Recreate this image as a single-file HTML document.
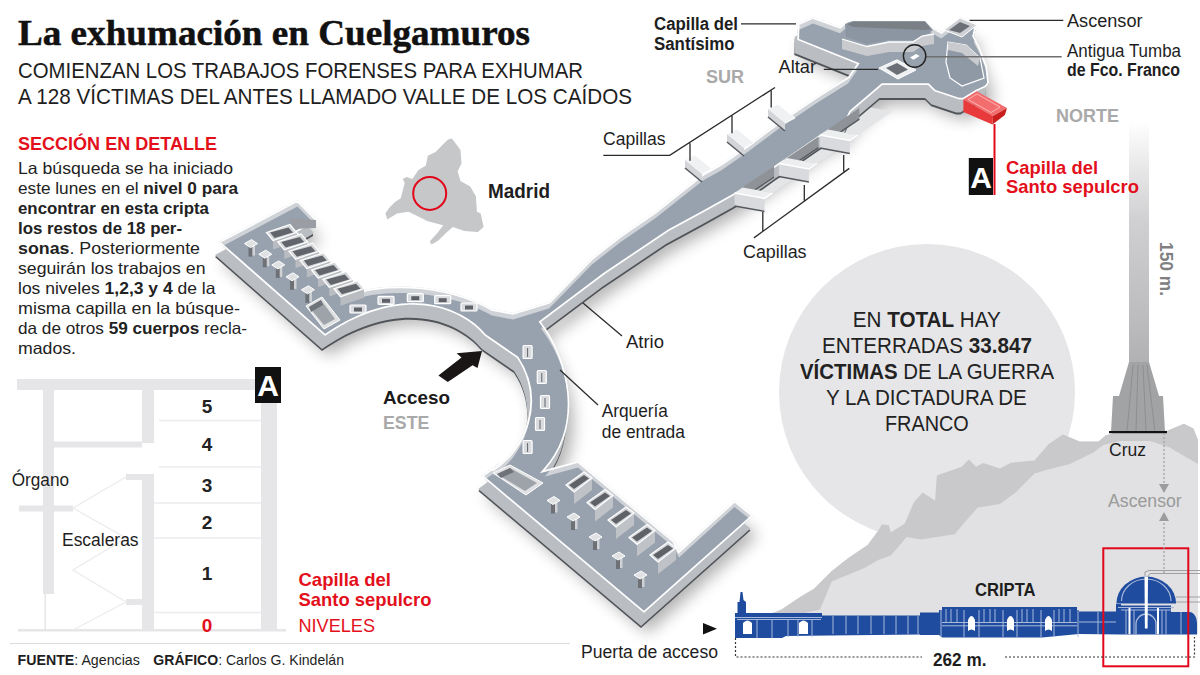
<!DOCTYPE html>
<html><head><meta charset="utf-8"><style>
html,body{margin:0;padding:0;background:#fff;width:1200px;height:675px;overflow:hidden}
svg{display:block}
text{font-family:"Liberation Sans",sans-serif}
</style></head><body>
<svg width="1200" height="675" viewBox="0 0 1200 675">
<rect width="1200" height="675" fill="#fff"/>
<defs>
<linearGradient id="shaft" x1="0" y1="0" x2="0" y2="1"><stop offset="0" stop-color="#fff"/><stop offset="0.15" stop-color="#ececed"/><stop offset="0.4" stop-color="#d0d0d2"/><stop offset="0.8" stop-color="#bcbcbe"/><stop offset="1" stop-color="#b0b0b2"/></linearGradient>
</defs>
<circle cx="927" cy="392" r="148" fill="#e6e6e8"/>
<!-- mountain body -->
<path d="M770,614 781.5,609.5 800,597 814,588.8 831.8,571 848,558.2 867.6,544.9 878.2,530.7 881.8,524.4 888.9,525.3 890.7,532.4 904.9,523.6 913.8,502.2 922.7,492.4 935.1,500.4 936.9,475.6 961.8,466.7 968.9,459.6 976,466.7 983.1,463.1 1000,468.4 1010.8,462.8 1034.5,460.5 1048.8,443.9 1063,434.4 1079.6,441.5 1098.5,441.5 1105.6,435.6 1120,431 1150,431 1167.3,430.8 1183.9,423.7 1193.4,428.4 1198,440 L1198,634 L770,634 Z" fill="#e1e1e3"/>
<!-- ridge band -->
<path d="M770,614 781.5,609.5 800,597 814,588.8 831.8,571 848,558.2 867.6,544.9 878.2,530.7 881.8,524.4 888.9,525.3 890.7,532.4 904.9,523.6 913.8,502.2 922.7,492.4 935.1,500.4 936.9,475.6 961.8,466.7 968.9,459.6 976,466.7 983.1,463.1 1000,468.4 1010.8,462.8 1034.5,460.5 1048.8,443.9 1063,434.4 1079.6,441.5 1098.5,441.5 1105.6,435.6 1120,431 1150,431 1167.3,430.8 1183.9,423.7 1193.4,428.4 1198,440 L1198,464 1181.5,454.5 1169.7,447.4 1150,441 1120,441 1103.3,445 1093.8,452.2 1070,464 1051,468.8 1034.5,473.5 1015.6,492.5 1000,504 977.8,507.6 963.6,523.6 954.7,534.2 920.9,539.6 906.7,536.9 890.7,555.6 878.2,560 864.4,568 831.8,581.4 820,609.5 800,614 Z" fill="#c9c9cb"/>
<!-- tower -->
<rect x="1129" y="122" width="20" height="245" fill="url(#shaft)"/>
<path d="M1129,362 L1149,362 1159,396 1163,396 1165,432 1111,432 1113,396 1119,396 Z" fill="#a2a3a5"/>
<path d="M1133,365 L1127,432 M1138,365 L1136,432 M1143,365 L1146,432 M1147,365 L1155,432" stroke="#8e8f91" stroke-width="1"/>
<rect x="1109" y="431" width="58" height="2.2" fill="#111"/>

<g fill="#e6e6e8">
<rect x="17" y="379" width="260" height="11"/>
<rect x="261" y="379" width="16" height="252"/>
<rect x="43" y="390" width="11" height="204"/>
<rect x="142" y="390" width="12" height="53"/>
<rect x="142" y="474" width="12" height="156"/>
<rect x="54" y="441.5" width="88" height="6"/>
<rect x="19" y="505.5" width="54" height="6"/>
<rect x="126" y="474" width="16" height="6"/>
<rect x="126" y="599" width="16" height="6"/>
<rect x="18" y="629" width="268" height="2.5"/>
<rect x="44.5" y="594" width="1.5" height="36"/>
</g>
<g stroke="#ececee" stroke-width="1.3" fill="none">
<path d="M159,420.5 H261 M159,467 H261 M154,503 H261 M154,538 H261 M154,612.5 H261"/>
<path d="M126,477 L73,508 L126,538 L73,570 L126,602 L73,630"/>
</g>

<path d="M451.9,138.5 L460.5,150 461.5,163.5 457.6,171.2 460.5,180.9 470.2,186.6 475.9,196.3 476.9,211.7 480.7,213.6 483.6,227 477.9,231.9 464.4,231 452.8,227 447,232 438.4,240.6 431.6,244.4 429.7,241.5 437.4,232.9 443.2,225.2 427.8,221.3 416.2,215.5 408.5,211.7 397,213.6 387.3,219.4 385.4,213.6 389.3,207.8 395,202 400.8,198.2 404.7,182.8 402.7,179 406.6,177 412.4,179 418.2,170.3 425.9,165.4 427.8,155.8 435.5,152 443.2,144.3 448,139.4 Z" fill="#c6c7c9"/>
<circle cx="429.7" cy="193.4" r="16.5" fill="none" stroke="#e2071b" stroke-width="2"/>

<defs>
<path id="mP" d="M218,242 L297.5,200 L316,219 L316,221 L297,232 L358,291 L352,294 C375,284 440,280 492,309 L513,313 L549,302 L592,258 L620,236 L655,212 L703,174 L721,164 L747,146 L779,122 L816,97 L848,77 L857,64 L797.3,40 L797.8,23.7 L813,17 L840,26.7 L848,20 L920,20 L941.3,32 L960.5,17.3 L977,24 L974,36 L980,47.7 L987,66 L989,83 L986,87 L976.8,91.3 L963.4,99.6 L959.2,99.6 L934.3,91.3 L928,85 L882.4,85 L850.7,112 L845,125 L830,130.3 L819.8,137 L788.7,158.5 L778.9,165 L746.9,187.8 L734.5,195 L704,212 L669,231 L605,274 L541,322 C570,360 585,425 545,470 L578,461 L674,541 L679,551 L734.5,500.5 L753.5,515.6 L644,613 L481.3,476 L500,462 L492,470 C525,450 545,400 517,358 L485,336 C460,306 400,284 325,336 Z"/>
<clipPath id="mClip"><use href="#mP"/></clipPath>
<filter id="mBlur" x="-20%" y="-20%" width="140%" height="140%"><feGaussianBlur stdDeviation="8"/></filter>
</defs>
<use href="#mP" transform="translate(4,20)" fill="#000" opacity="0.3" filter="url(#mBlur)"/>
<g><path d="M742.5,187.5 L772.5,192.9 L807.1,169.4 L777.1,164.0 Z" fill="#e4e5e7"/><path d="M786.9,158.1 L816.9,163.5 L851.5,140.0 L821.5,134.6 Z" fill="#e4e5e7"/><path d="M827.8,129.6 L857.8,135.0 L892.4,111.5 L862.4,106.1 Z" fill="#e4e5e7"/></g><use href="#mP" transform="translate(-3,15)" fill="#505358"/>
<use href="#mP" transform="translate(-3,13)" fill="#babdc1"/>
<use href="#mP" fill="#cfd2d6"/>
<g clip-path="url(#mClip)"><use href="#mP" transform="translate(0,6.5)" fill="#98a2ae"/></g>
<g clip-path="url(#mClip)">
<use href="#mP" fill="none" stroke="#fff" stroke-width="3.5"/>
</g>

<g><path d="M289.0,218.0 L316.0,220.0 L316.0,228.0 L292.6,229.0 Z" fill="#9a9ea4"/><path d="M273.0,240.5 L296.5,232.5 L296.5,241.5 L273.0,249.5 Z" fill="#b9bcc0"/><path d="M266.5,232.5 L290.0,224.5 L296.5,232.5 L273.0,240.5 Z" fill="#d5d7da" stroke="#fff" stroke-width="1.2"/><path d="M270.0,232.5 L288.5,227.5 L293.0,232.5 L274.5,238.0 Z" fill="#62666c"/><path d="M284.2,249.9 L307.8,241.9 L307.8,250.9 L284.2,258.9 Z" fill="#b9bcc0"/><path d="M277.8,241.9 L301.2,233.9 L307.8,241.9 L284.2,249.9 Z" fill="#d5d7da" stroke="#fff" stroke-width="1.2"/><path d="M281.2,241.9 L299.8,236.9 L304.2,241.9 L285.8,247.4 Z" fill="#62666c"/><path d="M295.5,259.2 L319.0,251.2 L319.0,260.2 L295.5,268.2 Z" fill="#b9bcc0"/><path d="M289.0,251.2 L312.5,243.2 L319.0,251.2 L295.5,259.2 Z" fill="#d5d7da" stroke="#fff" stroke-width="1.2"/><path d="M292.5,251.2 L311.0,246.2 L315.5,251.2 L297.0,256.7 Z" fill="#62666c"/><path d="M306.8,268.6 L330.2,260.6 L330.2,269.6 L306.8,277.6 Z" fill="#b9bcc0"/><path d="M300.2,260.6 L323.8,252.6 L330.2,260.6 L306.8,268.6 Z" fill="#d5d7da" stroke="#fff" stroke-width="1.2"/><path d="M303.8,260.6 L322.2,255.6 L326.8,260.6 L308.2,266.1 Z" fill="#62666c"/><path d="M318.0,278.0 L341.5,270.0 L341.5,279.0 L318.0,287.0 Z" fill="#b9bcc0"/><path d="M311.5,270.0 L335.0,262.0 L341.5,270.0 L318.0,278.0 Z" fill="#d5d7da" stroke="#fff" stroke-width="1.2"/><path d="M315.0,270.0 L333.5,265.0 L338.0,270.0 L319.5,275.5 Z" fill="#62666c"/><path d="M329.2,287.4 L352.8,279.4 L352.8,288.4 L329.2,296.4 Z" fill="#b9bcc0"/><path d="M322.8,279.4 L346.2,271.4 L352.8,279.4 L329.2,287.4 Z" fill="#d5d7da" stroke="#fff" stroke-width="1.2"/><path d="M326.2,279.4 L344.8,274.4 L349.2,279.4 L330.8,284.9 Z" fill="#62666c"/><path d="M340.5,296.7 L364.0,288.7 L364.0,297.7 L340.5,305.7 Z" fill="#b9bcc0"/><path d="M334.0,288.7 L357.5,280.7 L364.0,288.7 L340.5,296.7 Z" fill="#d5d7da" stroke="#fff" stroke-width="1.2"/><path d="M337.5,288.7 L356.0,283.7 L360.5,288.7 L342.0,294.2 Z" fill="#62666c"/><path d="M574.0,492.0 L592.0,478.0 L592.0,490.0 L574.0,504.0 Z" fill="#bfc2c6"/><path d="M566.0,485.0 L584.0,472.0 L592.0,478.0 L574.0,492.0 Z" fill="#d5d7da" stroke="#fff" stroke-width="1.2"/><path d="M569.0,485.0 L584.0,475.0 L589.0,478.5 L574.0,489.0 Z" fill="#5f6368"/><path d="M595.0,509.5 L613.0,495.5 L613.0,507.5 L595.0,521.5 Z" fill="#bfc2c6"/><path d="M587.0,502.5 L605.0,489.5 L613.0,495.5 L595.0,509.5 Z" fill="#d5d7da" stroke="#fff" stroke-width="1.2"/><path d="M590.0,502.5 L605.0,492.5 L610.0,496.0 L595.0,506.5 Z" fill="#5f6368"/><path d="M616.0,527.0 L634.0,513.0 L634.0,525.0 L616.0,539.0 Z" fill="#bfc2c6"/><path d="M608.0,520.0 L626.0,507.0 L634.0,513.0 L616.0,527.0 Z" fill="#d5d7da" stroke="#fff" stroke-width="1.2"/><path d="M611.0,520.0 L626.0,510.0 L631.0,513.5 L616.0,524.0 Z" fill="#5f6368"/><path d="M637.0,544.5 L655.0,530.5 L655.0,542.5 L637.0,556.5 Z" fill="#bfc2c6"/><path d="M629.0,537.5 L647.0,524.5 L655.0,530.5 L637.0,544.5 Z" fill="#d5d7da" stroke="#fff" stroke-width="1.2"/><path d="M632.0,537.5 L647.0,527.5 L652.0,531.0 L637.0,541.5 Z" fill="#5f6368"/><path d="M658.0,562.0 L676.0,548.0 L676.0,560.0 L658.0,574.0 Z" fill="#bfc2c6"/><path d="M650.0,555.0 L668.0,542.0 L676.0,548.0 L658.0,562.0 Z" fill="#d5d7da" stroke="#fff" stroke-width="1.2"/><path d="M653.0,555.0 L668.0,545.0 L673.0,548.5 L658.0,559.0 Z" fill="#5f6368"/><rect x="248.5" y="245.6" width="4" height="11" fill="#6d7176"/><rect x="252.5" y="245.6" width="2.5" height="10" fill="#d0d2d5"/><path d="M244.5,243.6 L251.5,239.6 L257.5,243.6 L250.5,247.6 Z" fill="#dfe1e3" stroke="#fff" stroke-width="1"/><rect x="262.8" y="256.2" width="4" height="11" fill="#6d7176"/><rect x="266.8" y="256.2" width="2.5" height="10" fill="#d0d2d5"/><path d="M258.8,254.2 L265.8,250.2 L271.8,254.2 L264.8,258.2 Z" fill="#dfe1e3" stroke="#fff" stroke-width="1"/><rect x="275.8" y="266.9" width="4" height="11" fill="#6d7176"/><rect x="279.8" y="266.9" width="2.5" height="10" fill="#d0d2d5"/><path d="M271.8,264.9 L278.8,260.9 L284.8,264.9 L277.8,268.9 Z" fill="#dfe1e3" stroke="#fff" stroke-width="1"/><rect x="290.0" y="278.8" width="4" height="11" fill="#6d7176"/><rect x="294.0" y="278.8" width="2.5" height="10" fill="#d0d2d5"/><path d="M286.0,276.8 L293.0,272.8 L299.0,276.8 L292.0,280.8 Z" fill="#dfe1e3" stroke="#fff" stroke-width="1"/><rect x="305.4" y="291.8" width="4" height="11" fill="#6d7176"/><rect x="309.4" y="291.8" width="2.5" height="10" fill="#d0d2d5"/><path d="M301.4,289.8 L308.4,285.8 L314.4,289.8 L307.4,293.8 Z" fill="#dfe1e3" stroke="#fff" stroke-width="1"/><rect x="551.0" y="502.5" width="4" height="11" fill="#6d7176"/><rect x="555.0" y="502.5" width="2.5" height="10" fill="#d0d2d5"/><path d="M547.0,500.5 L554.0,496.5 L560.0,500.5 L553.0,504.5 Z" fill="#dfe1e3" stroke="#fff" stroke-width="1"/><rect x="571.0" y="519.0" width="4" height="11" fill="#6d7176"/><rect x="575.0" y="519.0" width="2.5" height="10" fill="#d0d2d5"/><path d="M567.0,517.0 L574.0,513.0 L580.0,517.0 L573.0,521.0 Z" fill="#dfe1e3" stroke="#fff" stroke-width="1"/><rect x="593.0" y="539.0" width="4" height="11" fill="#6d7176"/><rect x="597.0" y="539.0" width="2.5" height="10" fill="#d0d2d5"/><path d="M589.0,537.0 L596.0,533.0 L602.0,537.0 L595.0,541.0 Z" fill="#dfe1e3" stroke="#fff" stroke-width="1"/><rect x="616.0" y="558.0" width="4" height="11" fill="#6d7176"/><rect x="620.0" y="558.0" width="2.5" height="10" fill="#d0d2d5"/><path d="M612.0,556.0 L619.0,552.0 L625.0,556.0 L618.0,560.0 Z" fill="#dfe1e3" stroke="#fff" stroke-width="1"/><rect x="638.0" y="577.0" width="4" height="11" fill="#6d7176"/><rect x="642.0" y="577.0" width="2.5" height="10" fill="#d0d2d5"/><path d="M634.0,575.0 L641.0,571.0 L647.0,575.0 L640.0,579.0 Z" fill="#dfe1e3" stroke="#fff" stroke-width="1"/><rect x="350.0" y="305.0" width="16" height="8" rx="1" fill="#d9dbde" stroke="#fff" stroke-width="1.2"/><rect x="354.0" y="307.5" width="8" height="4" fill="#5e6268"/><rect x="378.0" y="296.3" width="16" height="8" rx="1" fill="#d9dbde" stroke="#fff" stroke-width="1.2"/><rect x="382.0" y="298.8" width="8" height="4" fill="#5e6268"/><rect x="407.3" y="293.7" width="16" height="8" rx="1" fill="#d9dbde" stroke="#fff" stroke-width="1.2"/><rect x="411.3" y="296.2" width="8" height="4" fill="#5e6268"/><rect x="434.7" y="295.7" width="16" height="8" rx="1" fill="#d9dbde" stroke="#fff" stroke-width="1.2"/><rect x="438.7" y="298.2" width="8" height="4" fill="#5e6268"/><rect x="461.0" y="303.0" width="16" height="8" rx="1" fill="#d9dbde" stroke="#fff" stroke-width="1.2"/><rect x="465.0" y="305.5" width="8" height="4" fill="#5e6268"/><rect x="523.1" y="345.5" width="9" height="13" rx="1" fill="#d9dbde" stroke="#fff" stroke-width="1.2"/><rect x="527.1" y="348.0" width="1" height="9" fill="#5e6268"/><rect x="537.3" y="370.5" width="9" height="13" rx="1" fill="#d9dbde" stroke="#fff" stroke-width="1.2"/><rect x="541.3" y="373.0" width="1" height="9" fill="#5e6268"/><rect x="540.5" y="395.5" width="9" height="13" rx="1" fill="#d9dbde" stroke="#fff" stroke-width="1.2"/><rect x="544.5" y="398.0" width="1" height="9" fill="#5e6268"/><rect x="535.5" y="417.5" width="9" height="13" rx="1" fill="#d9dbde" stroke="#fff" stroke-width="1.2"/><rect x="539.5" y="420.0" width="1" height="9" fill="#5e6268"/><rect x="523.1" y="440.5" width="9" height="13" rx="1" fill="#d9dbde" stroke="#fff" stroke-width="1.2"/><rect x="527.1" y="443.0" width="1" height="9" fill="#5e6268"/><path d="M306.0,306.0 L322.0,297.0 L340.0,320.0 L324.0,329.0 Z" fill="#e0e1e3" stroke="#fff" stroke-width="1"/><path d="M309.0,307.0 L321.0,300.0 L335.0,319.0 L324.0,325.0 Z" fill="#9ea3a9"/><path d="M309.0,307.0 L321.0,300.0 L323.0,305.0 L311.0,312.0 Z" fill="#6f7379"/><path d="M493.0,473.0 L510.0,465.0 L543.0,483.0 L526.0,495.0 Z" fill="#e0e1e3" stroke="#fff" stroke-width="1"/><path d="M497.0,474.0 L510.0,468.0 L537.0,483.0 L525.0,491.0 Z" fill="#9ea3a9"/><path d="M497.0,474.0 L510.0,468.0 L514.0,472.0 L501.0,478.0 Z" fill="#6f7379"/><path d="M685.0,160.0 L695.0,155.0 L712.0,169.0 L702.0,174.0 Z" fill="#f0f1f2" stroke="#fff" stroke-width="1"/><path d="M685.0,160.0 L702.0,174.0 L702.0,182.0 L685.0,168.0 Z" fill="#d3d5d8"/><path d="M685.0,168.0 L702.0,182.0" stroke="#55595e" stroke-width="1.5"/><path d="M727.0,134.0 L737.0,129.0 L754.0,143.0 L744.0,148.0 Z" fill="#f0f1f2" stroke="#fff" stroke-width="1"/><path d="M727.0,134.0 L744.0,148.0 L744.0,156.0 L727.0,142.0 Z" fill="#d3d5d8"/><path d="M727.0,142.0 L744.0,156.0" stroke="#55595e" stroke-width="1.5"/><path d="M768.0,109.0 L778.0,104.0 L795.0,118.0 L785.0,123.0 Z" fill="#f0f1f2" stroke="#fff" stroke-width="1"/><path d="M768.0,109.0 L785.0,123.0 L785.0,131.0 L768.0,117.0 Z" fill="#d3d5d8"/><path d="M768.0,117.0 L785.0,131.0" stroke="#55595e" stroke-width="1.5"/><path d="M739.5,200.5 L774.1,177.0 L774.1,166.0 L739.5,189.5 Z" fill="#8f9398"/><path d="M739.5,200.5 L774.1,177.0" stroke="#55595e" stroke-width="1.3"/><path d="M783.9,171.1 L818.5,147.6 L818.5,136.6 L783.9,160.1 Z" fill="#8f9398"/><path d="M783.9,171.1 L818.5,147.6" stroke="#55595e" stroke-width="1.3"/><path d="M824.8,142.6 L859.4,119.1 L859.4,108.1 L824.8,131.6 Z" fill="#8f9398"/><path d="M824.8,142.6 L859.4,119.1" stroke="#55595e" stroke-width="1.3"/><path d="M734.5,193.0 L764.5,198.4 L764.5,211.4 L734.5,206.0 Z" fill="#d9dadd"/><path d="M734.5,193.0 L764.5,198.4 L772.5,192.9 L742.5,187.5 Z" fill="#eceef0"/><path d="M734.5,193.0 L764.5,198.4 L772.5,192.9" stroke="#fff" stroke-width="1.5" fill="none"/><path d="M734.5,206.0 L764.5,211.4" stroke="#55595e" stroke-width="1.5"/><path d="M778.9,163.6 L808.9,169.0 L808.9,182.0 L778.9,176.6 Z" fill="#d9dadd"/><path d="M778.9,163.6 L808.9,169.0 L816.9,163.5 L786.9,158.1 Z" fill="#eceef0"/><path d="M778.9,163.6 L808.9,169.0 L816.9,163.5" stroke="#fff" stroke-width="1.5" fill="none"/><path d="M778.9,176.6 L808.9,182.0" stroke="#55595e" stroke-width="1.5"/><path d="M819.8,135.1 L849.8,140.5 L849.8,153.5 L819.8,148.1 Z" fill="#d9dadd"/><path d="M819.8,135.1 L849.8,140.5 L857.8,135.0 L827.8,129.6 Z" fill="#eceef0"/><path d="M819.8,135.1 L849.8,140.5 L857.8,135.0" stroke="#fff" stroke-width="1.5" fill="none"/><path d="M819.8,148.1 L849.8,153.5" stroke="#55595e" stroke-width="1.5"/><path d="M845,24 L853,21 L925,21 L933,30 L925,36 L913,40 L889,40 L867,44 L846,37 Z" fill="#8c96a2"/><path d="M847,24 L853,22 L925,22 L931,29 L926,30 L853,27 Z" fill="#7b8086"/><path d="M842,39 L867,46.5 L889,42 L913,42 L922,36 L934,34 L934,44 L922,46 L913,52 L889,52 L867,56 L842,49 Z" fill="#c8cacd"/><path d="M842,39 L867,46.5 L889,42 L913,42 L922,36 L934,34" stroke="#fff" stroke-width="1.3" fill="none"/><path d="M948,42 L966,45 L980,58 L984,78 L962,86 L950,78 L946,62 Z" fill="#8f99a5" stroke="#fff" stroke-width="1.2"/><path d="M948,42 L966,45 L980,58 L978,66 L962,53 L948,50 Z" fill="#c9cbce"/><path d="M944.0,30.0 L960.0,18.0 L977.0,25.0 L962.0,37.0 Z" fill="#cfd1d4" stroke="#fff" stroke-width="1"/><path d="M949.0,30.0 L960.0,22.0 L970.0,26.0 L960.0,33.0 Z" fill="#6c7076"/><path d="M879.0,68.0 L897.0,59.8 L916.0,70.0 L898.0,79.0 Z" fill="#eef0f2" stroke="#fff" stroke-width="1"/><path d="M886.0,68.0 L897.0,63.0 L908.0,69.5 L897.0,75.0 Z" fill="#6c7076"/><path d="M910.0,57.5 L916.0,53.9 L919.6,56.0 L913.5,59.8 Z" fill="#fff"/><path d="M963.4,99.6 L976.8,91.3 L1007.0,107.9 L993.0,116.0 Z" fill="#f26d6d"/><path d="M963.4,99.6 L993.0,116.0 L992.4,124.5 L963.4,112.0 Z" fill="#e83a3a"/><path d="M993.0,116.0 L1007.0,107.9 L1004.9,115.1 L992.4,124.5 Z" fill="#c81e1e"/><path d="M968.0,99.5 L977.0,94.0 L1000.0,107.0 L991.0,112.5 Z" fill="none" stroke="#ffb3b3" stroke-width="1"/></g>
<g fill="#1f4c9e">
<!-- left section with tower -->
<path d="M735,613 L737.5,613 L737.5,602 L739.5,602 L740.5,592 L742.5,592 L743.5,600 L746,602 L746,613 L822,613 L822,615.6 L920,615.6 L920,612.5 L939,612.5 L939,610 L942,610 L942,607 L1077,607 L1077,610 L1079,610 L1079,611.5 L1116,611.5 L1116,604 L1121,604 L1121,605.5 L1171,605.5 L1171,612 L1190,612 C1195,613 1197,618 1197,624 L1197,634.5 L1121,634.5 L1079,634 L1042,637.5 L942,637.5 L939,635 L920,635 L920,634.4 L786,636 L782,638 L735,638 Z"/>
<path d="M1116.4,603.6 A29.85,27 0 0 1 1176.1,603.6 Z"/>
</g>
<g stroke="#a8b9dc" stroke-width="1" fill="none">
<path d="M735,617.5 H822 M737,619.5 H821"/>
<path d="M757,619 V638 M772,619 V638 M788,619 V637 M798,619 V637 M812,619 V637 M833,616 V634 M846,616 V634 M858,616 V634 M871,616 V634 M884,616 V634 M896,616 V634 M908,616 V634 M918,616 V634 M941,610 V637 M964,610 V637 M979,610 V637 M1003,610 V637 M1017,610 V637 M1041,610 V637 M1054,610 V637 M1078,610 V637 M1098,612 V634 M1079,622 H1116"/>
<path d="M946,609 V622 M951,609 V622 M957,609 V622 M984,609 V622 M990,609 V622 M995,609 V622 M1022,609 V622 M1027,609 V622 M1033,609 V622 M1059,609 V622 M1064,609 V622 M1070,609 V622"/>
<path d="M942,622.5 H1077 M942,625.8 H1077"/>
<path d="M1121.5,601 A24.75,22 0 0 1 1171,601" stroke-width="1.2"/>
<path d="M1118,607.5 H1174 M1121,610 H1171"/>
<path d="M1126,610 V634 M1134,610 V634 M1162,610 V634 M1166,610 V634 M1181,612 V634"/>
<path d="M1136,634 V624 A10,10 0 0 1 1156,624 V634" stroke-width="1.3"/>
</g>
<g fill="#fff">
<path d="M743,634 V623 Q747.5,618 752,623 V634 Z"/>
<path d="M799,634 V623 Q803.5,618 808,623 V634 Z"/>
<path d="M968,631 V620 Q971.5,612 975,620 V631 Q971.5,628 968,631 Z"/>
<path d="M1007,631 V620 Q1010.5,612 1014,620 V631 Q1010.5,628 1007,631 Z"/>
<path d="M1045,631 V620 Q1048.5,612 1052,620 V631 Q1048.5,628 1045,631 Z"/>
<path d="M1144.5,576.6 L1148,576.6 L1147.6,628.6 L1144.9,628.6 Z"/>
<rect x="1128.5" y="608" width="2" height="26"/>
<rect x="1157" y="608" width="2" height="26"/>
</g>
<!-- gray lines near dome -->
<g stroke="#a0a0a2" stroke-width="1" fill="none">
<path d="M1145,576 L1145,572 L1149,570.5 H1200 M1147.5,577 L1150,573.5 H1200"/>
<path d="M1176,597 H1200 M1176,602 H1200"/>
</g>
<rect x="1103.3" y="548.3" width="85" height="118" fill="none" stroke="#e2071b" stroke-width="2"/>
<!-- dotted dimension -->
<g stroke="#333" stroke-width="1.2" stroke-dasharray="2,2" fill="none">
<path d="M735.5,638 V657 H922 M1005,657 H1194.5 V637"/>
</g>
<path d="M703,623 L717,628.7 L703,634.4 Z" fill="#111"/>

<g stroke="#2b2b2b" stroke-width="1.3" fill="none">
<path d="M741,23.8 H796"/>
<path d="M823.8,69.4 H878"/>
<path d="M969.6,20.3 H1063.3"/>
<path d="M603.3,155.3 H669.7 L775,87.5 M690,143.3 V160.8 M732,115.8 V133.3 M771.2,90.8 V107.5"/>
<path d="M753.9,237.9 L849.3,168.4 M762.8,212 V231.7 M804.3,185 V200.5 M843.7,154.9 V171.5"/>
<path d="M583,303 L622,336"/>
<path d="M560,370 L598,405"/>
</g>
<path d="M925.5,56.7 H1061.7" stroke="#6f6f6f" stroke-width="1.6"/>
<circle cx="914.6" cy="56" r="11.2" fill="none" stroke="#222" stroke-width="1.4"/>
<path d="M994.5,124 V195" stroke="#e2071b" stroke-width="2"/>
<g stroke="#9c9c9c" stroke-width="1.2" stroke-dasharray="2,2" fill="none">
<path d="M1164,433 V486 M1164,519 V573"/>
</g>
<path d="M1159,484 L1169,484 L1164,493 Z M1159,521 L1169,521 L1164,512 Z" fill="#9c9c9c"/>
<path d="M482,351 L477.5,367.9 L472.6,365.2 L447.8,382.1 L438.4,375.4 L461.5,357.6 L456.6,353.2 Z" fill="#1b1616"/>

<g font-family="Liberation Sans, sans-serif" fill="#1e1e1e">
<text x="18" y="45" textLength="512" lengthAdjust="spacingAndGlyphs" style="font-family:'Liberation Serif',serif" font-weight="bold" font-size="35" fill="#111" stroke="#111" stroke-width="0.5">La exhumación en Cuelgamuros</text>
<text x="18" y="77.5" textLength="565" lengthAdjust="spacingAndGlyphs" font-size="22.5">COMIENZAN LOS TRABAJOS FORENSES PARA EXHUMAR</text>
<text x="18" y="103.5" textLength="614" lengthAdjust="spacingAndGlyphs" font-size="22.5">A 128 VÍCTIMAS DEL ANTES LLAMADO VALLE DE LOS CAÍDOS</text>
<text x="18" y="149.5" textLength="199" lengthAdjust="spacingAndGlyphs" font-size="18" font-weight="bold" fill="#e3101c">SECCIÓN EN DETALLE</text>
<g font-size="16.5" fill="#222">
<text x="18" y="174" textLength="215" lengthAdjust="spacingAndGlyphs">La búsqueda se ha iniciado</text>
<text x="18" y="194" textLength="220" lengthAdjust="spacingAndGlyphs">este lunes en el <tspan font-weight="bold">nivel 0 para</tspan></text>
<text x="18" y="214" textLength="191" lengthAdjust="spacingAndGlyphs" font-weight="bold">encontrar en esta cripta</text>
<text x="18" y="234" textLength="164" lengthAdjust="spacingAndGlyphs" font-weight="bold">los restos de 18 per-</text>
<text x="18" y="254" textLength="182" lengthAdjust="spacingAndGlyphs"><tspan font-weight="bold">sonas</tspan>. Posteriormente</text>
<text x="18" y="274" textLength="187.5" lengthAdjust="spacingAndGlyphs">seguirán los trabajos en</text>
<text x="18" y="294" textLength="197.5" lengthAdjust="spacingAndGlyphs">los niveles <tspan font-weight="bold">1,2,3 y 4</tspan> de la</text>
<text x="18" y="314" textLength="222" lengthAdjust="spacingAndGlyphs">misma capilla en la búsque-</text>
<text x="18" y="334" textLength="229" lengthAdjust="spacingAndGlyphs">da de otros <tspan font-weight="bold">59 cuerpos</tspan> recla-</text>
<text x="18" y="354" textLength="58" lengthAdjust="spacingAndGlyphs">mados.</text>
</g>
<g font-size="19" font-weight="bold" fill="#222" text-anchor="middle">
<text x="207" y="412.6">5</text>
<text x="207" y="450.5">4</text>
<text x="207" y="491.5">3</text>
<text x="207" y="529">2</text>
<text x="207" y="580">1</text>
<text x="207" y="631.5" fill="#e3101c">0</text>
</g>
<text x="11.7" y="486" textLength="57.3" lengthAdjust="spacingAndGlyphs" font-size="17.5">Órgano</text>
<text x="62" y="545.7" textLength="76.6" lengthAdjust="spacingAndGlyphs" font-size="17.5">Escaleras</text>
<rect x="255" y="367" width="26" height="36" fill="#111"/>
<text x="268" y="396" text-anchor="middle" font-size="30" font-weight="bold" fill="#fff">A</text>
<g fill="#e3101c" font-size="19">
<text x="298.5" y="586" textLength="92.5" lengthAdjust="spacingAndGlyphs" font-weight="bold">Capilla del</text>
<text x="298.5" y="606" textLength="133" lengthAdjust="spacingAndGlyphs" font-weight="bold">Santo sepulcro</text>
<text x="298.5" y="631.5" textLength="76.5" lengthAdjust="spacingAndGlyphs" font-size="17.5">NIVELES</text>
</g>
<rect x="10" y="643" width="560" height="1" fill="#dcdcdc"/>
<text x="17.5" y="665" textLength="122.3" lengthAdjust="spacingAndGlyphs" font-size="15"><tspan font-weight="bold">FUENTE</tspan>: Agencias</text><text x="153.3" y="665" textLength="190.7" lengthAdjust="spacingAndGlyphs" font-size="15"><tspan font-weight="bold">GRÁFICO</tspan>: Carlos G. Kindelán</text>
<text x="488" y="198.3" textLength="62" lengthAdjust="spacingAndGlyphs" font-size="19.5" font-weight="bold">Madrid</text>
<g font-size="17.5">
<text x="654" y="30" textLength="84" lengthAdjust="spacingAndGlyphs" font-weight="bold">Capilla del</text>
<text x="654" y="49.8" textLength="80.5" lengthAdjust="spacingAndGlyphs" font-weight="bold">Santísimo</text>
<text x="778.5" y="72.6" textLength="37.5" lengthAdjust="spacingAndGlyphs">Altar</text>
<text x="1067" y="27" textLength="75.5" lengthAdjust="spacingAndGlyphs">Ascensor</text>
<text x="1067" y="57" textLength="114" lengthAdjust="spacingAndGlyphs">Antigua Tumba</text>
<text x="1067" y="76" textLength="113" lengthAdjust="spacingAndGlyphs" font-weight="bold">de Fco. Franco</text>
<text x="603" y="145" textLength="62.5" lengthAdjust="spacingAndGlyphs">Capillas</text>
<text x="743" y="257.6" textLength="63.5" lengthAdjust="spacingAndGlyphs">Capillas</text>
<text x="626" y="347.5" textLength="38" lengthAdjust="spacingAndGlyphs">Atrio</text>
<text x="601.7" y="416.7" textLength="66.3" lengthAdjust="spacingAndGlyphs">Arquería</text>
<text x="601.7" y="437.8" textLength="83.3" lengthAdjust="spacingAndGlyphs">de entrada</text>
<text x="581" y="658" textLength="137" lengthAdjust="spacingAndGlyphs">Puerta de acceso</text>
<text x="1109" y="456" textLength="37" lengthAdjust="spacingAndGlyphs">Cruz</text>
<text x="1108" y="507" textLength="73.7" lengthAdjust="spacingAndGlyphs" fill="#9a9a9a">Ascensor</text>
</g>
<g font-weight="bold" fill="#a9a9a9" font-size="18.5">
<text x="706" y="83" textLength="38" lengthAdjust="spacingAndGlyphs">SUR</text>
<text x="1056" y="122" textLength="63" lengthAdjust="spacingAndGlyphs">NORTE</text>
<text x="383" y="429" textLength="46.4" lengthAdjust="spacingAndGlyphs">ESTE</text>
</g>
<text x="383" y="404" textLength="67" lengthAdjust="spacingAndGlyphs" font-size="18.5" font-weight="bold" fill="#1a1a1a">Acceso</text>
<rect x="968.8" y="158" width="24.2" height="37" fill="#111"/>
<text x="981" y="188" text-anchor="middle" font-size="30" font-weight="bold" fill="#fff">A</text>
<g fill="#e3101c" font-size="19" font-weight="bold">
<text x="1006" y="173.7" textLength="92" lengthAdjust="spacingAndGlyphs">Capilla del</text>
<text x="1006" y="193" textLength="133" lengthAdjust="spacingAndGlyphs">Santo sepulcro</text>
</g>
<text x="933" y="665.6" textLength="53.5" lengthAdjust="spacingAndGlyphs" font-size="18" font-weight="bold">262 m.</text>
<text x="975" y="596" textLength="60.6" lengthAdjust="spacingAndGlyphs" font-size="17.5" font-weight="bold">CRIPTA</text>
<text transform="translate(1159.5,242) rotate(90)" textLength="54" lengthAdjust="spacingAndGlyphs" font-size="17.5" font-weight="bold" fill="#808082">150 m.</text>
<g font-size="21.5" fill="#222">
<text x="852.8" y="326.8" textLength="148" lengthAdjust="spacingAndGlyphs">EN <tspan font-weight="bold">TOTAL</tspan> HAY</text>
<text x="822" y="353.2" textLength="210" lengthAdjust="spacingAndGlyphs">ENTERRADAS <tspan font-weight="bold">33.847</tspan></text>
<text x="800" y="378.8" textLength="254" lengthAdjust="spacingAndGlyphs"><tspan font-weight="bold">VÍCTIMAS</tspan> DE LA GUERRA</text>
<text x="826" y="405.2" textLength="200.8" lengthAdjust="spacingAndGlyphs">Y LA DICTADURA DE</text>
<text x="885" y="431" textLength="83.8" lengthAdjust="spacingAndGlyphs">FRANCO</text>
</g>
</g>


</svg></body></html>
